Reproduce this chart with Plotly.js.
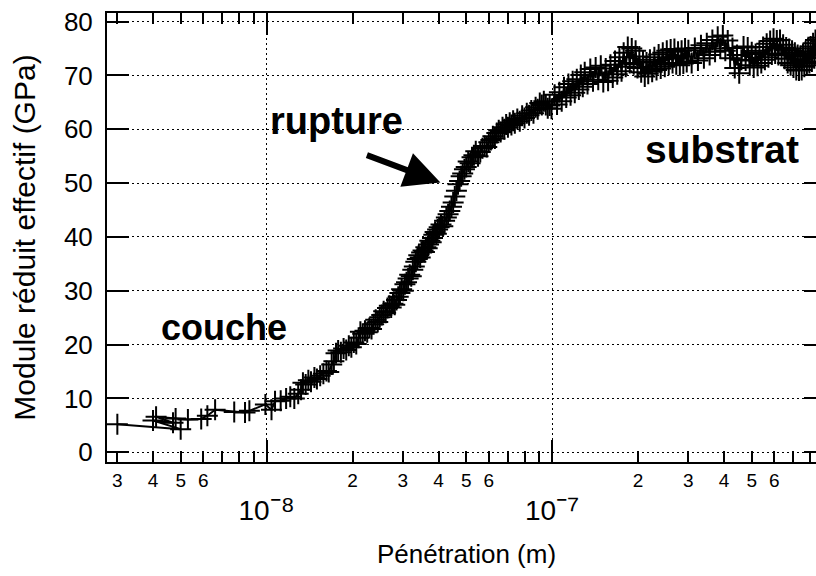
<!DOCTYPE html>
<html><head><meta charset="utf-8">
<script src="https://cdn.plot.ly/plotly-3.0.1.min.js"></script>
<style>html,body{margin:0;padding:0;overflow:hidden;background:#fff}#chart{width:826px;height:576px}</style>
</head><body><div id="chart"></div>
<script>
// Penetration depth (nm) and effective reduced modulus (GPa)
const depthNm = [
  3.0, 5.0, 4.0, 4.7, 4.1, 4.8, 5.3, 5.9, 6.2, 6.6, 7.7, 8.4, 8.7, 9.9, 10.4, 10.7, 11.2, 11.7,
  12.1, 12.5, 12.9, 13.2, 13.4, 13.7, 14.0, 14.3, 14.7, 15.0, 15.4, 15.8, 16.2, 16.5, 16.9, 17.2, 17.5, 17.8, 18.2, 18.6, 19.0, 19.4, 19.8,
  20.2, 20.6, 21.0, 21.3, 21.7, 22.1, 22.5, 22.9, 23.3, 23.7, 24.1, 24.5, 24.9, 25.3, 25.7, 26.1, 26.5, 26.9, 27.3, 27.7,
  28.1, 28.5, 28.9, 29.3, 29.7, 30.1, 30.5, 30.9, 31.3, 31.7, 32.1, 32.5, 32.9, 33.3, 33.7, 34.1, 34.5, 34.9, 35.3, 35.7,
  36.1, 36.5, 36.9, 37.3, 37.7, 38.1, 38.5, 38.9, 39.3, 39.7,
  40.2, 40.8, 41.4, 42.0, 42.6, 43.2, 43.8, 44.4, 45.0, 45.6, 46.2, 46.8, 47.4, 48.0, 48.6, 49.3, 50.0, 50.8, 51.6, 52.4,
  53.2, 54.0, 55.0, 56.0, 57.0, 58.0, 59.0, 60.0, 61.0, 62.0, 63.0, 64.0, 65.0, 66.0, 67.0, 68.0, 69.0, 70.0, 71.0, 72.0,
  73.0, 74.0, 75.5, 77.0, 78.5, 80.0, 81.5, 83.0, 84.5, 86.0, 87.5, 89.0, 90.5, 92.0, 93.5, 95.0, 96.5, 98.0, 99.5,
  102, 104, 106, 108, 110, 112, 114, 116, 118, 120, 122, 124, 126, 128, 130, 133, 136, 139, 142, 145,
  148, 151, 154, 157, 160, 163, 166, 169, 172, 175, 178, 181, 184, 187, 190, 193, 196, 199, 202, 205,
  208, 211, 214, 217, 220, 224, 228, 232, 236, 240, 244, 248, 252, 256, 260, 264, 268, 272, 276, 280,
  284, 288, 292, 296, 300,
  308, 316, 324, 332, 340, 348, 356, 364, 372, 380, 388, 396, 404, 412, 420, 428, 436, 444, 452, 460,
  468, 476, 484, 492, 500, 508, 516, 524, 532, 540, 548, 556, 564, 572, 580, 588, 596, 604, 612, 620,
  628, 636, 644, 652, 660, 668, 676, 684, 692, 700, 708, 716, 724, 732, 740, 748, 756, 764, 772, 780,
  788, 796, 804, 812, 820, 828, 836, 844, 852, 860, 868, 876
];
const modulusGPa = [
  5.2, 4.3, 5.9, 5.5, 6.6, 6.3, 6.1, 6.2, 6.8, 7.9, 7.5, 7.4, 7.7, 8.9, 7.9, 9.5, 9.6, 10.0,
  10.3, 10.0, 10.9, 11.6, 12.9, 12.6, 13.4, 13.1, 13.9, 13.6, 14.2, 14.6, 15.1, 14.9, 16.3, 16.9, 18.4, 18.9, 18.6, 19.3, 19.0, 19.8, 19.5,
  20.4, 20.1, 21.3, 22.4, 22.0, 22.6, 22.3, 23.1, 22.9, 23.8, 24.6, 24.2, 25.1, 25.5, 26.2, 25.9, 26.8, 27.2, 26.9, 27.6,
  27.4, 28.3, 28.9, 29.6, 30.3, 30.0, 31.2, 31.6, 32.3, 33.0, 32.7, 33.9, 34.5, 35.4, 35.9, 36.6, 36.2, 37.1, 37.5, 37.2,
  38.1, 37.9, 38.6, 39.3, 39.0, 39.8, 40.4, 40.9, 40.6, 41.4,
  41.8, 42.3, 42.0, 43.0, 43.6, 44.2, 44.8, 45.6, 46.4, 47.5, 48.6, 49.8, 50.4, 51.3, 51.8, 52.6, 53.0, 54.0, 53.7, 54.8,
  55.2, 55.9, 55.0, 55.8, 56.5, 56.9, 56.7, 57.6, 58.0, 58.7, 58.3, 59.3, 59.8, 59.5, 60.4, 60.0, 60.9, 60.4, 61.2, 60.8,
  61.6, 61.1, 61.9, 61.5, 62.5, 62.1, 63.0, 62.6, 63.5, 63.0, 64.1, 63.7, 64.9, 64.5, 65.2, 64.5, 63.9, 64.4, 63.8,
  66.4, 64.6, 66.9, 65.2, 67.8, 65.9, 68.4, 66.3, 68.9, 66.8, 69.3, 67.4, 70.1, 67.9, 70.6, 68.4, 71.2, 68.9, 71.5, 69.2,
  71.8, 68.8, 71.3, 69.0, 72.0, 69.6, 72.7, 70.2, 73.4, 70.8, 74.2, 71.6, 75.3, 72.3, 75.0, 72.1, 74.6, 71.4, 73.5, 70.6,
  72.6, 69.8, 72.4, 70.3, 72.9, 70.7, 73.4, 71.0, 73.9, 71.3, 74.2, 71.6, 74.6, 72.0, 74.8, 72.3, 74.9, 72.1, 74.4, 71.9,
  74.6, 72.2, 75.0, 72.5, 74.7,
  72.3, 75.1, 72.8, 75.6, 73.2, 76.0, 73.8, 76.6, 74.4, 77.2, 75.0, 77.4, 74.6, 76.5, 73.2, 75.1, 71.4, 73.8, 70.4, 72.9,
  75.4, 72.8, 75.2, 71.9, 74.3, 71.5, 74.0, 71.8, 74.6, 72.3, 75.3, 72.9, 75.9, 73.4, 76.4, 73.9, 76.8, 74.1, 76.5, 73.8,
  76.6, 73.9, 75.7, 73.1, 75.2, 72.3, 74.9, 71.9, 74.6, 71.5, 74.2, 71.0, 73.8, 70.9, 73.6, 71.0, 74.0, 71.6, 74.5, 71.9,
  75.0, 72.3, 75.4, 72.6, 76.0, 73.2, 76.6, 73.8, 77.0, 74.2, 73.4, 76.4
];

// Axis ticks and labels
const labelledTickVals = [3e-9, 4e-9, 5e-9, 6e-9, 2e-8, 3e-8, 4e-8, 5e-8, 6e-8, 2e-7, 3e-7, 4e-7, 5e-7, 6e-7];
const labelledTickText = ['3', '4', '5', '6', '2', '3', '4', '5', '6', '2', '3', '4', '5', '6'];
const unlabelledTickVals = [7e-9, 8e-9, 9e-9, 7e-8, 8e-8, 9e-8, 7e-7, 8e-7, 9e-7];
const decadeTickVals = [1e-8, 1e-7];
const decadeTickText = ['10<span style="font-size:34px">\u207B\u2078</span>', '10<span style="font-size:34px">\u207B\u2077</span>'];
const yTickVals = [0, 10, 20, 30, 40, 50, 60, 70, 80];

const FONT = 'Liberation Sans, Arial, Helvetica, sans-serif';
const xRange = [Math.log10(2.76e-9), Math.log10(9.1e-7)];

const trace = {
  x: depthNm.map(v => v * 1e-9),
  y: modulusGPa,
  type: 'scatter', mode: 'lines+markers', xaxis: 'x', yaxis: 'y',
  line: {color: '#000', width: 2},
  marker: {symbol: 'cross-thin', size: 15, color: '#000', line: {color: '#000', width: 2}},
  showlegend: false, hoverinfo: 'skip'
};
// empty trace so that the decade axis (x2) is drawn
const decadeAxisHolder = {x: [], y: [], type: 'scatter', mode: 'markers', xaxis: 'x2', yaxis: 'y',
  showlegend: false, hoverinfo: 'skip'};

const axBase = {ticks: 'inside', tickwidth: 2, tickcolor: '#000', showline: true, linewidth: 2,
  linecolor: '#000', mirror: 'ticks', zeroline: false};

const layout = {
  width: 826, height: 576,
  margin: {l: 107, r: 0, t: 13, b: 114},
  paper_bgcolor: '#fff', plot_bgcolor: '#fff', showlegend: false,
  font: {family: FONT, color: '#000'},
  xaxis: Object.assign({}, axBase, {
    type: 'log', range: xRange, tickmode: 'array', tickvals: labelledTickVals, ticktext: labelledTickText,
    ticklen: 11, showgrid: false, tickfont: {size: 19, family: FONT}, ticklabelstandoff: 0,
    minor: {tickmode: 'array', tickvals: unlabelledTickVals, ticks: 'inside', ticklen: 11, tickwidth: 2,
      tickcolor: '#000', showgrid: false},
    title: {text: 'Pénétration (m)', font: {size: 26, family: FONT}, standoff: 55}
  }),
  xaxis2: Object.assign({}, axBase, {
    type: 'log', overlaying: 'x', anchor: 'y', side: 'bottom', range: xRange,
    tickmode: 'array', tickvals: decadeTickVals, ticktext: decadeTickText,
    ticklen: 22, showgrid: true, gridcolor: '#000', gridwidth: 1, griddash: '2px,3px',
    tickfont: {size: 28, family: FONT}, ticklabelstandoff: 22
  }),
  yaxis: Object.assign({}, axBase, {
    range: [-1.8, 81.6], tickmode: 'array', tickvals: yTickVals, ticklen: 22,
    showgrid: true, gridcolor: '#000', gridwidth: 1, griddash: '2px,3px',
    tickfont: {size: 26, family: FONT}, ticklabelstandoff: 7,
    title: {text: 'Module réduit effectif (GPa)', font: {size: 30, family: FONT}, standoff: 19}
  }),
  annotations: [
    {xref: 'x', yref: 'y', x: Math.log10(7.08e-9), y: 23.2, text: '<b>couche</b>', showarrow: false,
      font: {size: 36, family: FONT, color: '#000'}},
    {xref: 'x', yref: 'y', x: Math.log10(1.75e-8), y: 61.5, text: '<b>rupture</b>', showarrow: false,
      font: {size: 38, family: FONT, color: '#000'}},
    {xref: 'x', yref: 'y', x: Math.log10(3.93e-7), y: 56.3, text: '<b>substrat</b>', showarrow: false,
      font: {size: 39, family: FONT, color: '#000'}},
    {xref: 'x', yref: 'y', x: Math.log10(4.06e-8), y: 50.1, text: '', showarrow: true,
      ax: -75, ay: -28, arrowhead: 2, arrowsize: 1.2, arrowwidth: 6, arrowcolor: '#000'}
  ]
};

Plotly.newPlot('chart', [trace, decadeAxisHolder], layout, {staticPlot: true, displayModeBar: false});
</script>
</body></html>
